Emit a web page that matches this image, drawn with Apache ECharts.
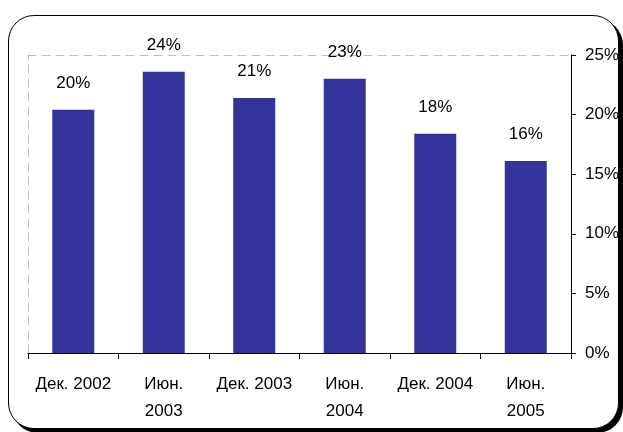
<!DOCTYPE html>
<html>
<head>
<meta charset="utf-8">
<script src="https://cdn.jsdelivr.net/npm/echarts@6/dist/echarts.min.js"></script>
<style>
  html, body { margin: 0; padding: 0; background: #fff; }
  #frame {
    position: absolute; left: 8px; top: 15px; width: 609px; height: 412px;
    border: 1px solid #000; border-radius: 26px; box-shadow: 4px 4px 0 #000;
    background: #fff;
  }
  #chart { position: absolute; left: 0; top: 0; width: 623px; height: 432px; }
</style>
</head>
<body>
<div id="frame"></div>
<div id="chart"></div>
<script>
// Periods (half-year points) and share values, %
const categories = ['Дек. 2002', 'Июн.\n2003', 'Дек. 2003', 'Июн.\n2004', 'Дек. 2004', 'Июн.\n2005'];
const shares = [20.4, 23.6, 21.4, 23.0, 18.4, 16.1];
const yTicks = [0, 5, 10, 15, 20, 25];

const font = 'Liberation Sans, Arial, sans-serif';
const chart = echarts.init(document.getElementById('chart'), null, { renderer: 'canvas' });

chart.setOption({
  animation: false,
  backgroundColor: 'transparent',
  grid: { left: 28, right: 52, top: 55, bottom: 79 },
  xAxis: [
    {
      type: 'category',
      data: categories,
      position: 'bottom',
      axisLine: { onZero: false, lineStyle: { color: '#000', width: 1 } },
      axisTick: { show: true, length: 6, lineStyle: { color: '#000' } },
      axisLabel: { color: '#000', fontFamily: font, fontSize: 17, lineHeight: 27, margin: 18, interval: 0 },
      splitLine: { show: false }
    },
    {
      // dashed upper edge of the plot area
      type: 'category',
      data: categories,
      position: 'top',
      axisLine: { show: true, onZero: false, lineStyle: { color: '#c0c0c0', type: [8, 6] } },
      axisTick: { show: false },
      axisLabel: { show: false },
      splitLine: { show: false }
    }
  ],
  yAxis: [
    {
      type: 'value',
      position: 'right',
      min: yTicks[0],
      max: yTicks[yTicks.length - 1],
      interval: 5,
      axisLine: { show: true, onZero: false, lineStyle: { color: '#000', width: 1 } },
      axisTick: { show: true, inside: false, length: 5, lineStyle: { color: '#000' } },
      axisLabel: { color: '#000', fontFamily: font, fontSize: 17, margin: 14, formatter: v => v + '%' },
      splitLine: { show: false }
    },
    {
      // dashed left edge of the plot area
      type: 'value',
      position: 'left',
      min: yTicks[0],
      max: yTicks[yTicks.length - 1],
      interval: 5,
      axisLine: { show: true, onZero: false, lineStyle: { color: '#c0c0c0', type: [8, 6] } },
      axisTick: { show: false },
      axisLabel: { show: false },
      splitLine: { show: false }
    }
  ],
  series: [
    {
      type: 'bar',
      xAxisIndex: 0,
      yAxisIndex: 0,
      data: shares,
      barWidth: 42,
      itemStyle: { color: '#333399' },
      label: {
        show: true,
        position: 'top',
        distance: 18,
        color: '#000',
        fontFamily: font,
        fontSize: 17,
        formatter: p => Math.round(p.value) + '%'
      }
    }
  ]
});
</script>
</body>
</html>
